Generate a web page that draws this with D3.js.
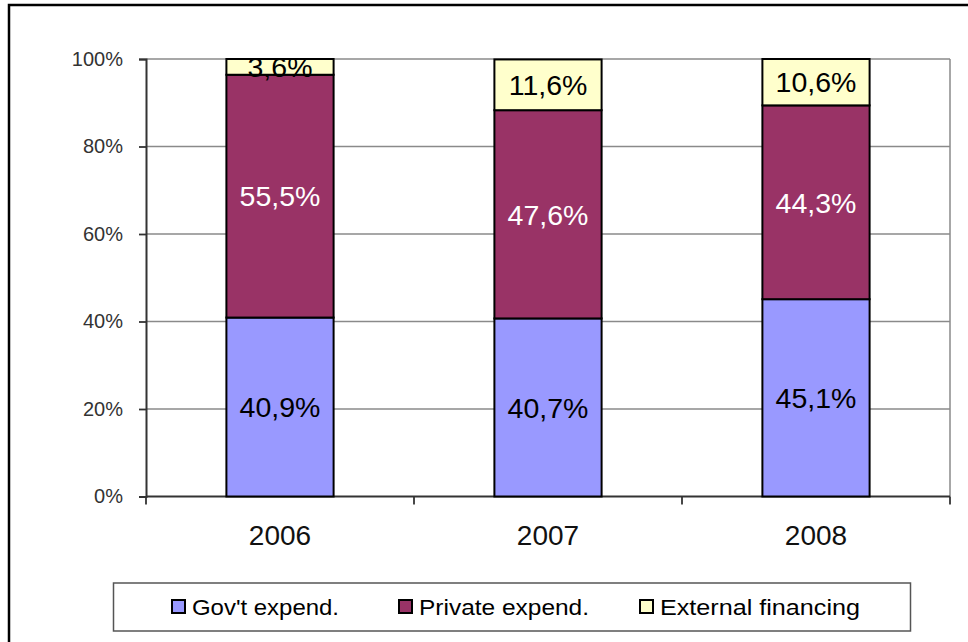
<!DOCTYPE html>
<html>
<head>
<meta charset="utf-8">
<script src="https://cdn.jsdelivr.net/npm/d3@7"></script>
<style>
  html, body { margin: 0; padding: 0; background: #ffffff; }
  svg { display: block; }
  text { font-family: "Liberation Sans", Arial, sans-serif; }
</style>
</head>
<body>
<svg id="chart" width="968" height="642"></svg>
<script>
// Funding shares by year (percent of total)
const years = ["2006", "2007", "2008"];
const govExpend = [40.9, 40.7, 45.1];
const privateExpend = [55.5, 47.6, 44.3];
const externalFinancing = [3.6, 11.6, 10.6];
const yTicks = [0, 20, 40, 60, 80, 100];

const seriesNames = ["Gov't expend.", "Private expend.", "External financing"];
const seriesColors = ["#9999ff", "#993366", "#ffffcc"];
const labelColors = ["#000000", "#ffffff", "#000000"];

const rows = years.map((y, i) => ({
  year: y,
  gov: govExpend[i],
  priv: privateExpend[i],
  ext: externalFinancing[i]
}));
const keys = ["gov", "priv", "ext"];
const stacked = d3.stack().keys(keys)(rows);

const svg = d3.select("#chart");

// outer frame
svg.append("rect")
  .attr("x", 9).attr("y", 5).attr("width", 1000).attr("height", 700)
  .attr("fill", "#ffffff").attr("stroke", "#000").attr("stroke-width", 2.5);

const plot = { left: 146, right: 950, top: 59, bottom: 496.5 };

const x = d3.scaleBand().domain(years)
  .range([plot.left, plot.right])
  .paddingInner(0.6).paddingOuter(0.3);
const y = d3.scaleLinear().domain([0, 100]).range([plot.bottom, plot.top]);

// gridlines
svg.append("g").selectAll("line").data(yTicks.filter(t => t > 0)).join("line")
  .attr("x1", plot.left).attr("x2", plot.right)
  .attr("y1", d => y(d)).attr("y2", d => y(d))
  .attr("stroke", "#8a8a8a").attr("stroke-width", 1.5);
// right border of plot area
svg.append("line")
  .attr("x1", plot.right).attr("x2", plot.right)
  .attr("y1", plot.top).attr("y2", plot.bottom)
  .attr("stroke", "#8a8a8a").attr("stroke-width", 1.5);

// y axis
const yAxis = d3.axisLeft(y).tickValues(yTicks).tickSize(7).tickPadding(16)
  .tickFormat(d => d + "%");
const gy = svg.append("g").attr("transform", `translate(${plot.left},0)`).call(yAxis);
gy.select(".domain").attr("stroke", "#333").attr("stroke-width", 2);
gy.selectAll(".tick line").attr("stroke", "#333").attr("stroke-width", 1.8);
gy.selectAll(".tick text").attr("font-size", 20).attr("fill", "#333")
  .attr("font-family", "Liberation Sans, Arial, sans-serif");

// x axis line and category boundary ticks
svg.append("line")
  .attr("x1", plot.left).attr("x2", plot.right)
  .attr("y1", plot.bottom).attr("y2", plot.bottom)
  .attr("stroke", "#333").attr("stroke-width", 2);
const step = x.step();
const boundaries = d3.range(years.length + 1).map(i => plot.left + i * step);
svg.append("g").selectAll("line").data(boundaries).join("line")
  .attr("x1", d => d).attr("x2", d => d)
  .attr("y1", plot.bottom).attr("y2", plot.bottom + 8)
  .attr("stroke", "#333").attr("stroke-width", 1.8);
svg.append("g").selectAll("text").data(years).join("text")
  .attr("x", d => x(d) + x.bandwidth() / 2)
  .attr("y", 545)
  .attr("text-anchor", "middle")
  .attr("font-size", 28)
  .attr("fill", "#111")
  .text(d => d);

// stacked bars
const fmt = v => d3.format(".1f")(v).replace(".", ",") + "%";
stacked.forEach((layer, li) => {
  const g = svg.append("g");
  g.selectAll("rect").data(layer).join("rect")
    .attr("x", d => x(d.data.year))
    .attr("width", x.bandwidth())
    .attr("y", d => y(d[1]))
    .attr("height", d => y(d[0]) - y(d[1]))
    .attr("fill", seriesColors[li])
    .attr("stroke", "#000").attr("stroke-width", 2);
  g.selectAll("text").data(layer).join("text")
    .attr("x", d => x(d.data.year) + x.bandwidth() / 2)
    .attr("y", d => (y(d[0]) + y(d[1])) / 2)
    .attr("dy", "0.36em")
    .attr("text-anchor", "middle")
    .attr("font-size", 28.5)
    .attr("fill", labelColors[li])
    .text(d => fmt(d.data[keys[li]]));
});

// legend
const legend = svg.append("g");
legend.append("rect")
  .attr("x", 113.5).attr("y", 583).attr("width", 797).attr("height", 48)
  .attr("fill", "#fff").attr("stroke", "#555").attr("stroke-width", 1.5);
const legendX = [172, 399, 640];
const legendTextWidth = [147, 170, 200];
seriesNames.forEach((name, i) => {
  legend.append("rect")
    .attr("x", legendX[i]).attr("y", 600).attr("width", 13).attr("height", 13)
    .attr("fill", seriesColors[i]).attr("stroke", "#000").attr("stroke-width", 2);
  legend.append("text")
    .attr("x", legendX[i] + 20).attr("y", 615)
    .attr("font-size", 22).attr("fill", "#000")
    .attr("textLength", legendTextWidth[i])
    .attr("lengthAdjust", "spacingAndGlyphs")
    .text(name);
});
</script>
</body>
</html>
